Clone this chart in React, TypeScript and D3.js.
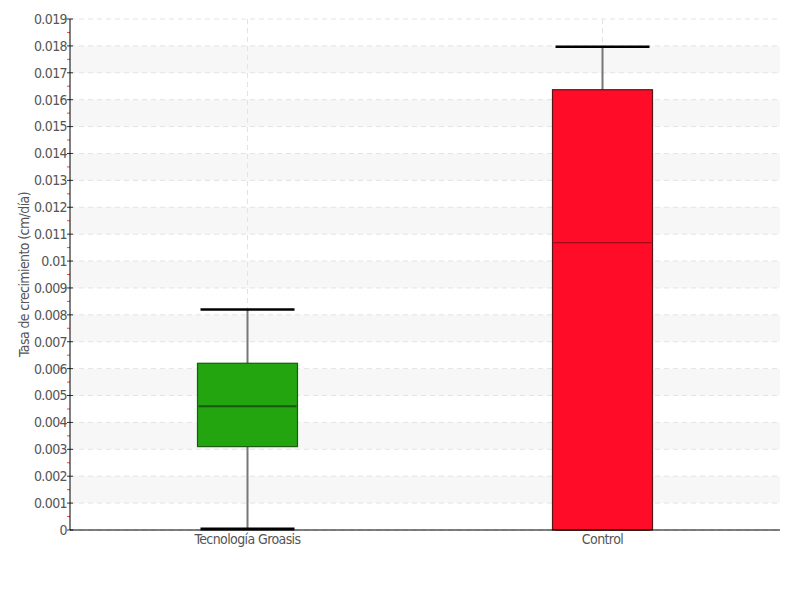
import React from "react";
import * as d3 from "d3";

const categories = ["Tecnología Groasis", "Control"];
const whiskerLow = [0, 0];
const q1 = [0.0031, 0];
const median = [0.0046, 0.01068];
const q3 = [0.0062, 0.01637];
const whiskerHigh = [0.0082, 0.01797];
const fills = ["#22a50f", "#ff0d28"];
const strokes = ["#1d5a12", "#5a1414"];
const medianColors = ["#17570e", "#8a0a16"];
const yTicks = d3.range(0, 0.0195, 0.001);

const W = 800, H = 600;
const M = { left: 70, right: 20, top: 19, bottom: 70 };
const FONT = "'DejaVu Sans Condensed', 'DejaVu Sans', sans-serif";

export default function App() {
  const x = d3.scaleBand().domain(categories).range([M.left, W - M.right]);
  const y = d3.scaleLinear().domain([0, 0.019]).range([H - M.bottom, M.top]);
  const boxW = 100;
  const capW = 96;
  const fmt = (v: number) => (v === 0 ? "0" : d3.format(".3~f")(v));
  const minor = d3.range(0.0005, 0.019, 0.001);
  return (
    <svg width={W} height={H} style={{ position: "absolute", left: 0, top: 0 }}>
      <rect width={W} height={H} fill="#fff" />
      {yTicks.slice(0, -1).map((t, i) =>
        i % 2 === 1 ? (
          <rect key={"b" + i} x={M.left} y={y(t + 0.001)} width={W - M.right - M.left}
            height={y(t) - y(t + 0.001)} fill="#f7f7f7" />
        ) : null
      )}
      {yTicks.map((t, i) => (
        <line key={"g" + i} x1={M.left} x2={W - M.right} y1={y(t)} y2={y(t)}
          stroke="#e3e3e3" strokeDasharray="5,4" />
      ))}
      {categories.map((c) => (
        <line key={"v" + c} x1={x(c)! + x.bandwidth() / 2} x2={x(c)! + x.bandwidth() / 2}
          y1={M.top} y2={H - M.bottom} stroke="#e3e3e3" strokeDasharray="5,4" />
      ))}
      {categories.map((c, i) => {
        const cx = x(c)! + x.bandwidth() / 2;
        return (
          <g key={c}>
            <line x1={cx} x2={cx} y1={y(whiskerHigh[i])} y2={y(whiskerLow[i])} stroke="#777" strokeWidth={2} />
            <line x1={cx - capW / 2 + 1} x2={cx + capW / 2 - 1} y1={y(whiskerHigh[i])} y2={y(whiskerHigh[i])}
              stroke="#000" strokeWidth={2.5} />
            <line x1={cx - capW / 2 + 1} x2={cx + capW / 2 - 1} y1={y(whiskerLow[i]) - 1} y2={y(whiskerLow[i]) - 1}
              stroke="#000" strokeWidth={3} />
            <rect x={cx - boxW / 2} y={y(q3[i])} width={boxW} height={y(q1[i]) - y(q3[i])}
              fill={fills[i]} stroke={strokes[i]} strokeWidth={1.2} />
            <line x1={cx - boxW / 2 + 1} x2={cx + boxW / 2 - 1} y1={y(median[i])} y2={y(median[i])}
              stroke={medianColors[i]} strokeWidth={i === 0 ? 2 : 1.2} />
            <text x={cx} y={H - M.bottom + 14} textAnchor="middle" fontFamily={FONT}
              fontSize={14} fill="#555" letterSpacing="-0.6">{c}</text>
          </g>
        );
      })}
      {minor.map((t, i) => (
        <line key={"m" + i} x1={M.left - 3} x2={M.left} y1={y(t)} y2={y(t)} stroke="#f44" />
      ))}
      {yTicks.map((t, i) => (
        <g key={"t" + i}>
          <line x1={M.left - 3} x2={M.left + 3} y1={y(t)} y2={y(t)} stroke="#333" />
          <text x={M.left - 3} y={y(t)} dy="0.35em" textAnchor="end" fontFamily={FONT}
            fontSize={14} fill="#555" letterSpacing="-0.6">{fmt(t)}</text>
        </g>
      ))}
      <line x1={M.left} x2={M.left} y1={M.top} y2={H - M.bottom} stroke="#000" strokeWidth={1} />
      <line x1={M.left} x2={W - M.right} y1={H - M.bottom} y2={H - M.bottom} stroke="#000" strokeWidth={1} />
      <text transform={`translate(29,${(M.top + H - M.bottom) / 2}) rotate(-90)`} textAnchor="middle"
        fontFamily={FONT} fontSize={14} fill="#555" letterSpacing="-0.6">Tasa de crecimiento (cm/día)</text>
    </svg>
  );
}
